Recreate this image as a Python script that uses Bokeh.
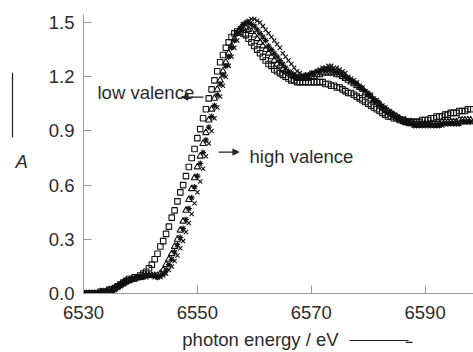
from bokeh.plotting import figure
from bokeh.models import (Label, Arrow, NormalHead, FixedTicker,
                          ColumnDataSource, LinearAxis, CustomJSTickFormatter)
from bokeh.embed import file_html
from bokeh.resources import INLINE

# ---- data: absorbance A sampled every 0.5 eV from 6530 eV ----
E_START = 6530.0
E_STEP = 0.5

squares = [
    0.00, 0.00, 0.00, 0.00, 0.00, 0.00, 0.01, 0.01, 0.01, 0.02,
    0.02, 0.03, 0.04, 0.05, 0.06, 0.07, 0.08, 0.08, 0.09, 0.09,
    0.10, 0.11, 0.12, 0.14, 0.16, 0.19, 0.22, 0.26, 0.29, 0.33,
    0.37, 0.42, 0.46, 0.51, 0.56, 0.60, 0.65, 0.70, 0.75, 0.80,
    0.86, 0.91, 0.97, 1.02, 1.08, 1.13, 1.18, 1.23, 1.28, 1.32,
    1.36, 1.39, 1.42, 1.44, 1.45, 1.45, 1.44, 1.43, 1.41, 1.39,
    1.37, 1.35, 1.33, 1.31, 1.29, 1.27, 1.26, 1.24, 1.23, 1.22,
    1.21, 1.20, 1.19, 1.18, 1.18, 1.17, 1.17, 1.17, 1.17, 1.17,
    1.17, 1.17, 1.17, 1.17, 1.17, 1.16, 1.16, 1.15, 1.15, 1.14,
    1.14, 1.13, 1.12, 1.11, 1.11, 1.10, 1.09, 1.08, 1.07, 1.06,
    1.05, 1.04, 1.03, 1.02, 1.01, 1.00, 0.99, 0.98, 0.98, 0.97,
    0.97, 0.96, 0.96, 0.95, 0.95, 0.95, 0.95, 0.95, 0.95, 0.96,
    0.96, 0.96, 0.97, 0.97, 0.98, 0.98, 0.98, 0.99, 0.99, 1.00,
    1.00, 1.00, 1.01, 1.01, 1.01, 1.02, 1.02,
]

triangles = [
    0.00, 0.00, 0.00, 0.00, 0.00, 0.00, 0.01, 0.01, 0.01, 0.02,
    0.02, 0.03, 0.04, 0.05, 0.06, 0.07, 0.07, 0.08, 0.08, 0.09,
    0.09, 0.10, 0.10, 0.10, 0.10, 0.10, 0.10, 0.11, 0.13, 0.16,
    0.19, 0.22, 0.26, 0.30, 0.35, 0.40, 0.46, 0.52, 0.58, 0.64,
    0.70, 0.76, 0.83, 0.89, 0.96, 1.02, 1.08, 1.13, 1.18, 1.23,
    1.28, 1.33, 1.37, 1.41, 1.44, 1.46, 1.47, 1.47, 1.46, 1.45,
    1.43, 1.41, 1.39, 1.37, 1.35, 1.33, 1.31, 1.29, 1.27, 1.26,
    1.24, 1.23, 1.22, 1.21, 1.20, 1.19, 1.19, 1.19, 1.19, 1.19,
    1.20, 1.20, 1.21, 1.21, 1.22, 1.22, 1.22, 1.22, 1.22, 1.21,
    1.21, 1.20, 1.19, 1.18, 1.17, 1.16, 1.15, 1.14, 1.13, 1.11,
    1.10, 1.09, 1.07, 1.06, 1.05, 1.03, 1.02, 1.01, 1.00, 0.99,
    0.98, 0.97, 0.96, 0.96, 0.95, 0.95, 0.94, 0.94, 0.94, 0.94,
    0.94, 0.94, 0.94, 0.94, 0.94, 0.94, 0.95, 0.95, 0.95, 0.95,
    0.95, 0.95, 0.96, 0.96, 0.96, 0.96, 0.96,
]

stars = [
    0.00, 0.00, 0.00, 0.00, 0.00, 0.00, 0.00, 0.01, 0.01, 0.01,
    0.02, 0.03, 0.04, 0.05, 0.06, 0.07, 0.07, 0.08, 0.08, 0.09,
    0.09, 0.09, 0.10, 0.10, 0.10, 0.10, 0.09, 0.10, 0.11, 0.13,
    0.16, 0.19, 0.23, 0.27, 0.31, 0.36, 0.41, 0.47, 0.53, 0.59,
    0.65, 0.72, 0.78, 0.85, 0.92, 0.98, 1.04, 1.10, 1.16, 1.21,
    1.26, 1.31, 1.36, 1.40, 1.44, 1.47, 1.49, 1.50, 1.50, 1.49,
    1.48, 1.46, 1.44, 1.42, 1.40, 1.37, 1.35, 1.33, 1.31, 1.29,
    1.27, 1.25, 1.23, 1.22, 1.21, 1.20, 1.20, 1.20, 1.21, 1.21,
    1.22, 1.22, 1.23, 1.23, 1.24, 1.24, 1.24, 1.24, 1.23, 1.23,
    1.22, 1.21, 1.20, 1.19, 1.18, 1.17, 1.16, 1.14, 1.13, 1.12,
    1.10, 1.09, 1.07, 1.06, 1.04, 1.03, 1.01, 1.00, 0.99, 0.98,
    0.97, 0.96, 0.95, 0.95, 0.94, 0.94, 0.93, 0.93, 0.93, 0.93,
    0.93, 0.93, 0.93, 0.93, 0.93, 0.93, 0.94, 0.94, 0.94, 0.94,
    0.94, 0.94, 0.94, 0.95, 0.95, 0.95, 0.95,
]

crosses = [
    0.00, 0.00, 0.00, 0.00, 0.00, 0.00, 0.00, 0.01, 0.01, 0.01,
    0.02, 0.02, 0.03, 0.04, 0.05, 0.06, 0.07, 0.08, 0.08, 0.09,
    0.09, 0.09, 0.09, 0.10, 0.10, 0.09, 0.09, 0.09, 0.10, 0.11,
    0.13, 0.15, 0.18, 0.21, 0.25, 0.29, 0.34, 0.39, 0.44, 0.50,
    0.56, 0.62, 0.69, 0.76, 0.83, 0.90, 0.97, 1.03, 1.09, 1.15,
    1.20, 1.26, 1.31, 1.36, 1.40, 1.44, 1.47, 1.49, 1.51, 1.52,
    1.52, 1.51, 1.50, 1.48, 1.46, 1.44, 1.42, 1.40, 1.38, 1.36,
    1.33, 1.31, 1.29, 1.27, 1.25, 1.23, 1.22, 1.21, 1.20, 1.20,
    1.21, 1.22, 1.23, 1.24, 1.25, 1.25, 1.26, 1.26, 1.25, 1.25,
    1.24, 1.23, 1.22, 1.20, 1.19, 1.18, 1.17, 1.15, 1.14, 1.12,
    1.11, 1.10, 1.08, 1.07, 1.05, 1.04, 1.03, 1.01, 1.00, 0.99,
    0.98, 0.97, 0.96, 0.95, 0.94, 0.94, 0.93, 0.93, 0.93, 0.93,
    0.93, 0.93, 0.93, 0.93, 0.93, 0.93, 0.93, 0.94, 0.94, 0.94,
    0.94, 0.94, 0.94, 0.95, 0.95, 0.95, 0.95,
]

x_ticks = [6530, 6550, 6570, 6590]
y_ticks = [0.0, 0.3, 0.6, 0.9, 1.2, 1.5]

energy = [E_START + E_STEP * i for i in range(len(squares))]

FONT = "Liberation Sans"
FS = "18.5px"
TXT = "#2b2b2b"
MK = "#111111"
AX = "#9a9a9a"
ARR = "#222222"

p = figure(width=473, height=352, output_backend="svg", toolbar_location=None,
           x_range=(6530, 6598.5), y_range=(0, 1.5444),
           min_border_left=83, min_border_right=0, min_border_top=14, min_border_bottom=58)
p.outline_line_color = None
p.xgrid.visible = False
p.ygrid.visible = False
p.background_fill_color = "white"
p.border_fill_color = "white"

src = ColumnDataSource(dict(e=energy, sq=squares, tr=triangles, st=stars, cr=crosses))
p.scatter("e", "sq", source=src, marker="square", size=5.5, fill_color=None, line_color=MK, line_width=1.1)
p.scatter("e", "tr", source=src, marker="triangle", size=6.5, fill_color=None, line_color=MK, line_width=1.1)
p.scatter("e", "st", source=src, marker="asterisk", size=6, line_color=MK, line_width=1.1)
p.scatter("e", "cr", source=src, marker="x", size=6, line_color=MK, line_width=1.1)

for ax in (p.xaxis, p.yaxis):
    ax.axis_line_color = AX
    ax.major_tick_line_color = AX
    ax.major_tick_in = 8
    ax.major_tick_out = 0
    ax.minor_tick_line_color = None
    ax.major_label_text_font = FONT
    ax.major_label_text_font_size = FS
    ax.major_label_text_color = TXT

p.xaxis.ticker = FixedTicker(ticks=x_ticks)
p.yaxis.ticker = FixedTicker(ticks=y_ticks)
p.yaxis.formatter = CustomJSTickFormatter(code="return tick.toFixed(1);")
p.xaxis.major_label_standoff = 12
p.yaxis.major_label_standoff = 9

# spacer title on the main x axis (pushes the arrow axis down)
p.xaxis.axis_label = "\u00a0"
p.xaxis.axis_label_text_font_size = "10px"
p.xaxis.axis_label_standoff = 5

# y axis title "A"
p.yaxis.axis_label = "\u00a0\nA"
p.yaxis.axis_label_orientation = "horizontal"
p.yaxis.axis_label_text_font = FONT
p.yaxis.axis_label_text_font_size = FS
p.yaxis.axis_label_text_font_style = "italic"
p.yaxis.axis_label_text_color = TXT
p.yaxis.axis_label_text_line_height = 0.75
p.yaxis.axis_label_standoff = 18


def shaft_axis(bounds, **kw):
    return LinearAxis(ticker=FixedTicker(ticks=[]), bounds=bounds,
                      axis_line_color=ARR, axis_line_width=1.2,
                      major_tick_line_color=None, minor_tick_line_color=None,
                      major_label_text_font_size="0px", major_label_standoff=0, **kw)


# x axis title + the stroke of its arrow
x_shaft = shaft_axis((6576.7, 6587.0),
                     axis_label="photon energy / eV" + "\u00a0" * 7,
                     axis_label_text_font=FONT, axis_label_text_font_size=FS,
                     axis_label_text_font_style="normal", axis_label_text_color=TXT,
                     axis_label_standoff=-12)
p.add_layout(x_shaft, "below")

# stroke of the arrow above "A"
y_shaft = shaft_axis((0.866, 1.20))
p.add_layout(y_shaft, "left")


def lab(x, y, t):
    p.add_layout(Label(x=x, y=y, text=t, text_font=FONT, text_font_size=FS,
                       text_color=TXT, text_align="left", text_baseline="alphabetic"))


def arr(x0, y0, x1, y1, size=6):
    p.add_layout(Arrow(x_start=x0, y_start=y0, x_end=x1, y_end=y1,
                       line_color=ARR, line_width=1.2,
                       end=NormalHead(size=size, fill_color=ARR, line_color=ARR)))


lab(6532.46, 1.114, "low valence")
arr(6551.08, 1.0866, 6547.3, 1.0866)
arr(6553.72, 0.783, 6557.3, 0.783)
lab(6559.16, 0.7556, "high valence")

# arrow heads of the two axis arrows
arr(6584.0, -0.2703, 6587.8, -0.2703, 7)
arr(6517.53, 1.10, 6517.53, 1.222, 7)

open("out.html", "w").write(file_html(p, INLINE))
